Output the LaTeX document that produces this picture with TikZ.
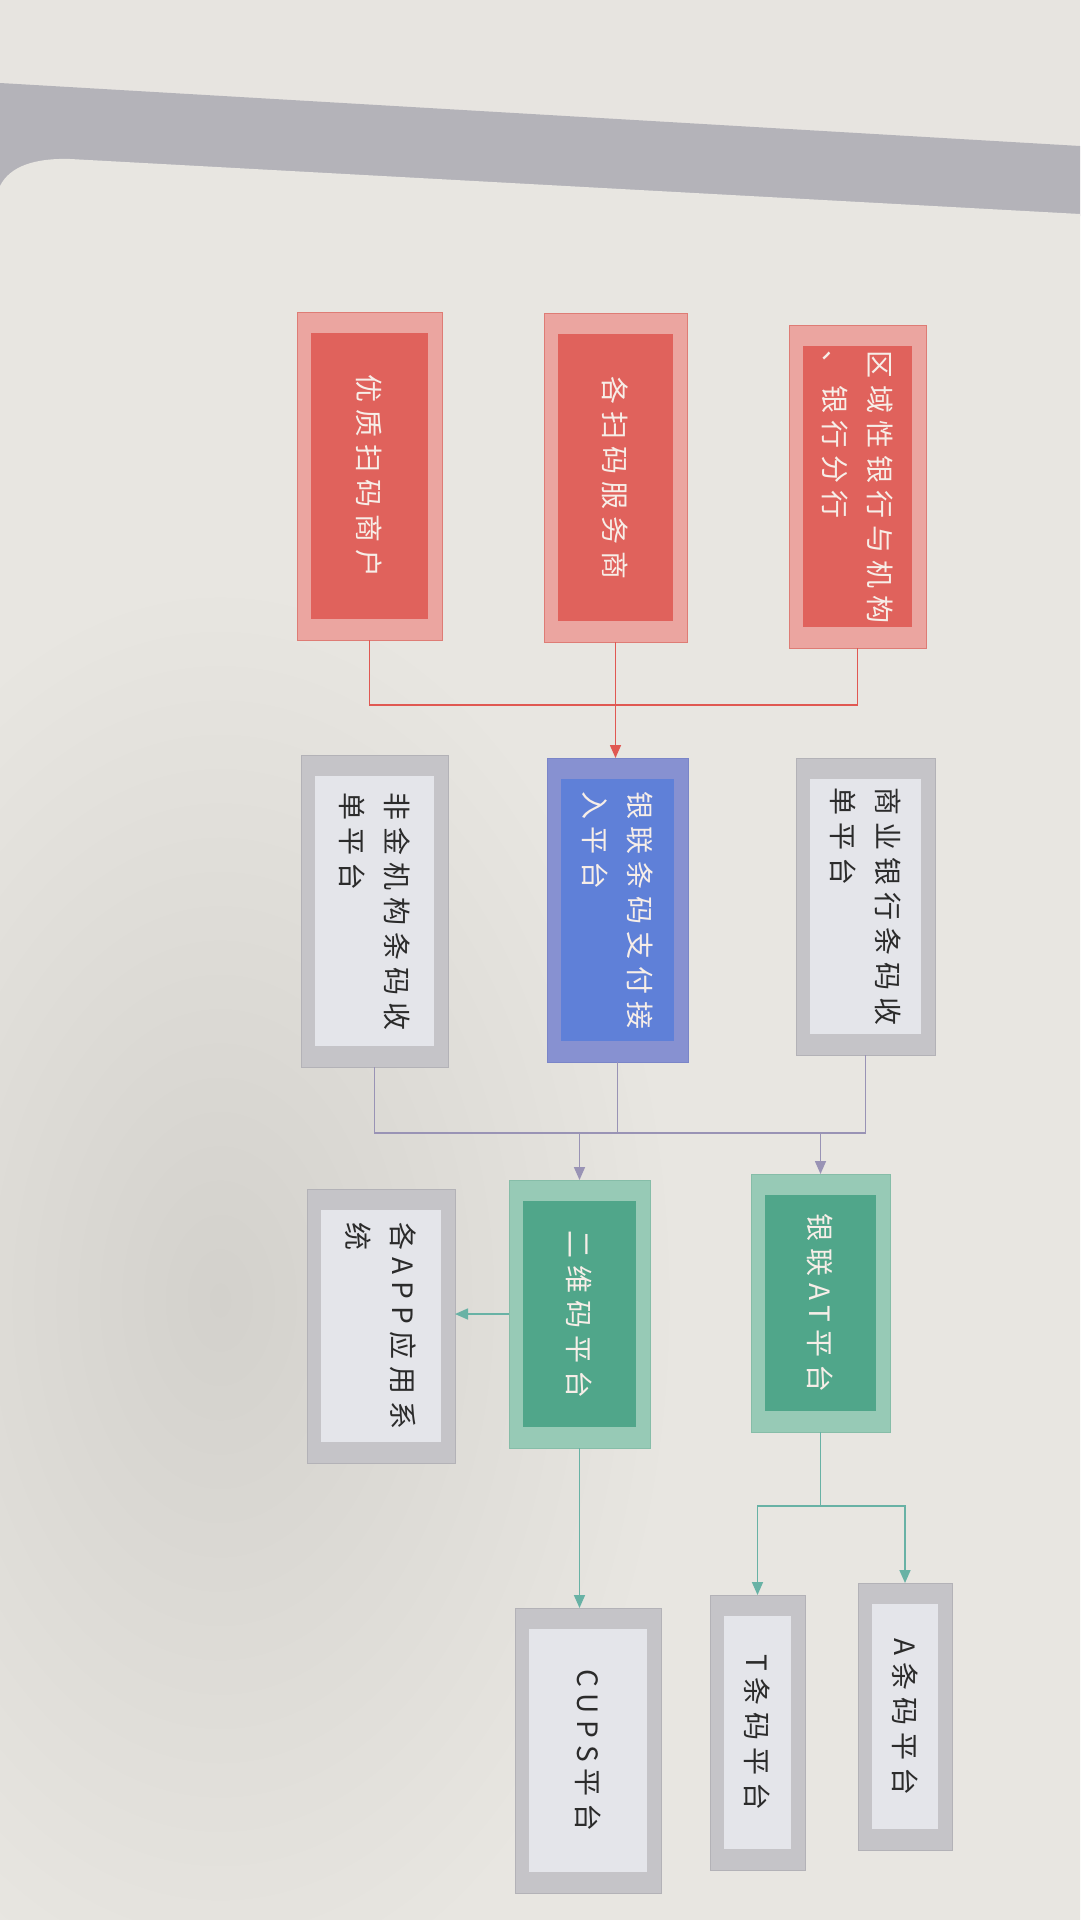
\documentclass[tikz,border=0pt]{standalone}
\usepackage{fontspec}
\newfontfamily\cjk{Noto Sans CJK SC}[LetterSpace=25]
\usetikzlibrary{arrows.meta}
\definecolor{bgtop}{HTML}{E7E4E0}
\definecolor{band}{HTML}{B4B3B9}
\definecolor{panel}{HTML}{E8E6E1}
\definecolor{shadowc}{HTML}{D3D1CC}
\definecolor{redout}{HTML}{EBA5A0}
\definecolor{redin}{HTML}{E0625C}
\definecolor{rededge}{HTML}{DE7C75}
\definecolor{blueout}{HTML}{8791D1}
\definecolor{bluein}{HTML}{5F80D8}
\definecolor{blueedge}{HTML}{7A85C8}
\definecolor{greenout}{HTML}{97CAB6}
\definecolor{greenin}{HTML}{50A68A}
\definecolor{greenedge}{HTML}{86BDA8}
\definecolor{grayout}{HTML}{C5C4C8}
\definecolor{grayin}{HTML}{E4E5EA}
\definecolor{grayedge}{HTML}{B3B2B7}
\definecolor{redline}{HTML}{E05852}
\definecolor{purpline}{HTML}{9993B5}
\definecolor{tealline}{HTML}{68B2A5}
\definecolor{lighttxt}{HTML}{F7EEE8}
\definecolor{darktxt}{HTML}{2B2B2B}
\tikzset{
  boxbase/.style={rectangle, inner sep=0pt, outer sep=0pt},
  red out/.style={boxbase, fill=redout, draw=rededge, line width=1pt},
  red in/.style={boxbase, fill=redin},
  blue out/.style={boxbase, fill=blueout, draw=blueedge, line width=1pt},
  blue in/.style={boxbase, fill=bluein},
  green out/.style={boxbase, fill=greenout, draw=greenedge, line width=1pt},
  green in/.style={boxbase, fill=greenin},
  gray out/.style={boxbase, fill=grayout, draw=grayedge, line width=1pt},
  gray in/.style={boxbase, fill=grayin},
  boxtxt/.style={rotate=-90, font=\cjk\fontsize{28}{45}\selectfont, align=left, inner sep=0pt},
  conn/.style={line width=1.6pt},
  tip/.style={-{Triangle[length=13pt,width=11pt]}}
}
% #1 name, #2 kind, #3 x1, #4 y1, #5 x2, #6 y2, #7 text colour, #8 text
\newcommand{\diagbox}[8]{%
  \node[#2 out, minimum width={(#5-#3)*1pt}, minimum height={(#6-#4)*1pt}] (#1) at ({(#3+#5)/2},{(#4+#6)/2}) {};
  \node[#2 in, minimum width={(#5-#3-28)*1pt}, minimum height={(#6-#4-42)*1pt}] (#1in) at (#1.center) {};
  \node[boxtxt, text=#7] (#1txt) at (#1in.center) {#8};
}
\begin{document}
\begin{tikzpicture}[x=1pt,y=-1pt]
\useasboundingbox (0,0) rectangle (1080,1920);
% photo background
\fill[bgtop] (0,0) rectangle (1080,1920);
\fill[band] (0,83) -- (1080,146) -- (1080,216) -- (0,186) -- cycle;
\fill[panel] (0,1920) -- (0,186) .. controls (10,166) and (35,158) .. (70,159) -- (1080,214) -- (1080,1920) -- cycle;
\shade[inner color=shadowc, outer color=panel] (220,1300) ellipse [x radius=460, y radius=720];

% row 1 (red)
\diagbox{r1}{red}{297}{312}{442}{640}{lighttxt}{优质扫码商户}
\diagbox{r2}{red}{544}{313}{687}{642}{lighttxt}{各扫码服务商}
\diagbox{r3}{red}{789}{325}{926}{648}{lighttxt}{区域性银行与机构\\、银行分行}
% row 2
\diagbox{m1}{gray}{301}{755}{448}{1067}{darktxt}{非金机构条码收\\单平台}
\diagbox{m2}{blue}{547}{758}{688}{1062}{lighttxt}{银联条码支付接\\入平台}
\diagbox{m3}{gray}{796}{758}{935}{1055}{darktxt}{商业银行条码收\\单平台}
% row 3
\diagbox{b1}{gray}{307}{1189}{455}{1463}{darktxt}{各APP应用系\\统}
\diagbox{b2}{green}{509}{1180}{650}{1448}{lighttxt}{二维码平台}
\diagbox{b3}{green}{751}{1174}{890}{1432}{lighttxt}{银联AT平台}
% row 4
\diagbox{c1}{gray}{515}{1608}{661}{1893}{darktxt}{CUPS平台}
\diagbox{c2}{gray}{710}{1595}{805}{1870}{darktxt}{T条码平台}
\diagbox{c3}{gray}{858}{1583}{952}{1850}{darktxt}{A条码平台}

% red connectors
\coordinate (jr) at (r2.south |- 0,705);
\draw[conn, redline] (r1.south) |- (jr) -| (r3.south);
\draw[conn, redline, tip] (r2.south) -- (r2.south |- m2.north);
% purple connectors
\coordinate (jp) at (m2.south |- 0,1133);
\draw[conn, purpline] (m1.south) |- (jp) -| (m3.south);
\draw[conn, purpline] (m2.south) -- (jp);
\coordinate (jpa) at (b2.north |- jp);
\coordinate (jpb) at (b3.north |- jp);
\draw[conn, purpline, tip] (jpa) -- (b2.north);
\draw[conn, purpline, tip] (jpb) -- (b3.north);
% teal connectors
\draw[conn, tealline, tip] (b2.west) -- (b2.west -| b1.east);
\draw[conn, tealline, tip] (b2.south) -- (b2.south |- c1.north);
\coordinate (jt) at (b3.south |- 0,1506);
\draw[conn, tealline] (b3.south) -- (jt);
\draw[conn, tealline, tip] (jt) -| (c2.north);
\draw[conn, tealline, tip] (jt) -| (c3.north);
\end{tikzpicture}
\end{document}
